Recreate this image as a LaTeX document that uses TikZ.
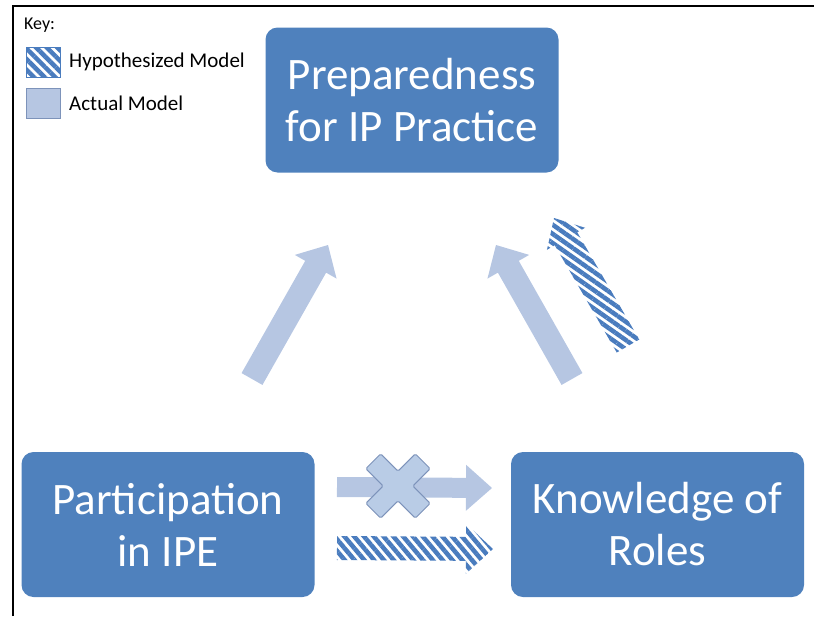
\documentclass[tikz,border=0pt]{standalone}
\usepackage{fontspec}
\setmainfont{Carlito}
\usetikzlibrary{positioning, calc, patterns.meta}
\definecolor{boxblue}{HTML}{4F81BD}
\definecolor{hatchblue}{HTML}{4A7CBE}
\definecolor{paleblue}{HTML}{B6C6E2}
\definecolor{crossblue}{HTML}{B9CCE6}
\definecolor{crossedge}{HTML}{7D93BA}
\tikzset{stage/.style = {rectangle, rounded corners=12pt, fill=boxblue, text=white, align=center,
    minimum width=293pt, minimum height=145pt, inner sep=0pt, font=\fontsize{45}{52}\selectfont}}
\tikzset{keytext/.style = {anchor=west, inner sep=0pt, font=\fontsize{21}{24}\selectfont}}
\tikzset{keybox/.style = {rectangle, minimum width=34pt, minimum height=30pt, inner sep=0pt}}
\tikzset{actual/.style = {fill=paleblue}}
\tikzset{hypo/.style = {pattern={Lines[angle=#1, distance=7.5pt, line width=4.5pt]}, pattern color=hatchblue}}

% block arrow: [style]{tail}{tip}{shaft half width}{head half width}{head length}
\newcommand{\blockarrow}[6][]{%
    \path ($(#3)!#6!(#2)$) coordinate (ah);
    \fill[#1] ($(#2)!#4!90:(#3)$) -- ($(ah)!#4!-90:(#2)$) -- ($(ah)!#5!-90:(#2)$) -- (#3)
        -- ($(ah)!#5!90:(#2)$) -- ($(ah)!#4!90:(#2)$) -- ($(#2)!#4!-90:(#3)$) -- cycle;}

\begin{document}
\begin{tikzpicture}[x=1pt, y=-1pt]
            \useasboundingbox (0,0) rectangle (814,616);
            \draw[line width=2pt] (13,616) -- (13,6) -- (814,6);

            \node[stage] (prep) at (412,100)   {Preparedness\\for IP Practice};
            \node[stage] (part) at (168,524.5) {Participation\\in IPE};
            \node[stage] (know) at (657.5,524.5) {Knowledge of\\Roles};

            % key
            \node[keytext, font=\fontsize{18}{21}\selectfont] (keyhead) at (24,25) {Key:};
            \node[keybox, hypo=-45, draw=hatchblue, thin] (hyposq) at (43,62) {};
            \node[keybox, actual, draw=crossedge, thin] (actsq) at (43,103) {};
            \node[keytext] (hypolab) at (69,62)  {Hypothesized Model};
            \node[keytext] (actlab)  at (69,103) {Actual Model};

            % arrows
            \coordinate (lt) at (252,379);   \coordinate (lh) at (328,245);
            \coordinate (rt) at (572,379);   \coordinate (rh) at (496,245);
            \coordinate (ht) at (628,346);   \coordinate (hh) at (554,218);
            \coordinate (at) at (337,487);   \coordinate (ah2) at (492,488);
            \coordinate (bt) at (337,548);   \coordinate (bh) at (493,549);

            \blockarrow[paleblue]{lt}{lh}{12pt}{24pt}{25pt}
            \blockarrow[paleblue]{rt}{rh}{12pt}{24pt}{25pt}
            \blockarrow[hypo=-35]{ht}{hh}{13pt}{22pt}{24pt}
            \blockarrow[paleblue]{at}{ah2}{10pt}{23pt}{26pt}
            \blockarrow[hypo=-50]{bt}{bh}{12pt}{25pt}{27pt}

            % crossed out link
            \begin{scope}[shift={(398,486)}, rotate=45]
                \draw[fill=crossblue, draw=crossedge, line width=1pt, rounded corners=1.5pt]
                    (10.5,-10.5) -- (35,-10.5) -- (35,10.5) -- (10.5,10.5) -- (10.5,35) -- (-10.5,35) -- (-10.5,10.5)
                    -- (-35,10.5) -- (-35,-10.5) -- (-10.5,-10.5) -- (-10.5,-35) -- (10.5,-35) -- cycle;
            \end{scope}
        \end{tikzpicture}
\end{document}
